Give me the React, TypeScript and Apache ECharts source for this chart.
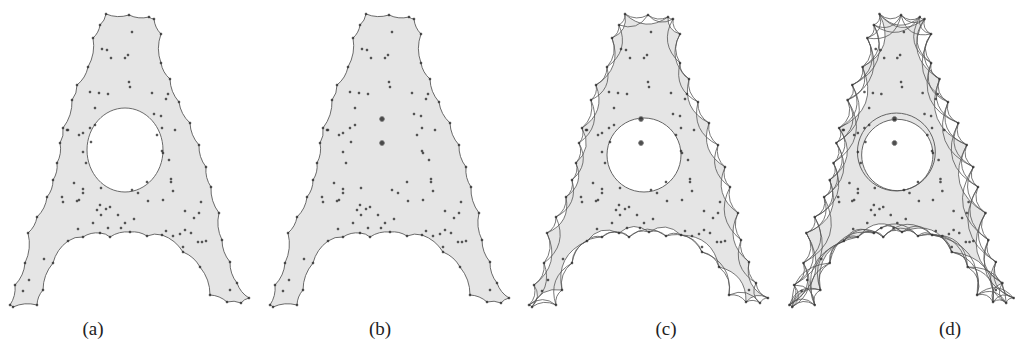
import React, { useEffect, useRef } from "react";
import * as echarts from "echarts";

// Outline vertices of the shape (panel-local coordinates), clockwise
const OUTLINE: number[][] = [
  [106, 14], [129, 15], [149, 17], [154, 19], [161, 34], [161, 63], [170, 79],
  [179, 102], [190, 123], [199, 145], [206, 167], [211, 187], [219, 213],
  [222, 240], [230, 262], [237, 283], [249, 298], [241, 303], [227, 302],
  [210, 295], [200, 267], [183, 252], [162, 235], [147, 236], [130, 232],
  [110, 237], [100, 233], [83, 237], [68, 241], [53, 263], [43, 290],
  [37, 305], [13, 307], [10, 305], [15, 285], [25, 263], [28, 233], [37, 217],
  [47, 197], [53, 180], [57, 163], [60, 143], [63, 128], [72, 100], [77, 85],
  [88, 67], [93, 38], [100, 25],
];

// Interior sample points
const DOTS: number[][] = [
  [132, 32], [102, 49], [107, 50], [128, 55], [125, 58], [111, 58], [129, 82],
  [130, 87], [90, 92], [99, 93], [108, 94], [152, 93], [168, 94], [166, 99],
  [95, 108], [154, 114], [161, 116], [90, 128], [95, 125], [67, 130], [68, 130],
  [162, 128], [175, 130], [79, 135], [83, 133], [157, 135], [91, 142], [83, 152],
  [162, 151], [163, 153], [86, 163], [169, 160], [74, 183], [83, 189], [83, 193],
  [101, 188], [171, 179], [171, 182], [173, 191], [147, 182], [132, 190],
  [138, 193], [62, 197], [63, 202], [77, 201], [79, 200], [148, 201], [163, 200],
  [201, 202], [100, 205], [97, 210], [106, 209], [110, 207], [101, 215],
  [118, 215], [185, 211], [199, 213], [194, 218], [134, 219], [125, 223],
  [93, 223], [78, 229], [108, 228], [121, 228], [166, 231], [173, 236],
  [180, 234], [185, 230], [191, 233], [198, 242], [202, 242], [206, 241],
  [183, 247], [44, 259], [29, 280], [23, 291], [230, 290],
];

const STARS: number[][] = [[122, 119], [122, 143]];

const HOLE_A: number[] = [125, 150, 38, 42]; // cx, cy, rx, ry
const HOLE_C: number[][] = [[125, 155, 37]];
const HOLE_D: number[][] = [[125, 155, 38], [124, 152, 41.5]];

const PANEL_LABELS: string[] = ["(a)", "(b)", "(c)", "(d)"];
const PANEL_LEFT: number[] = [0, 260, 519, 780];
const LABEL_X: number[] = [93, 380, 666, 950];

type ArcSpec = { step: number; ratio: number };
type PanelCfg = {
  fillStep: number;
  fillRatio: number;
  fillStroke: boolean;
  arcs: ArcSpec[];
  hole: "ellipse" | "circleC" | "circleD" | "none";
  stars: boolean;
};

const PANELS: PanelCfg[] = [
  { fillStep: 1, fillRatio: 0.09, fillStroke: true, arcs: [], hole: "ellipse", stars: false },
  { fillStep: 1, fillRatio: 0.09, fillStroke: true, arcs: [], hole: "none", stars: true },
  {
    fillStep: 2, fillRatio: 0.2, fillStroke: false,
    arcs: [{ step: 1, ratio: 0.15 }, { step: 2, ratio: 0.2 }],
    hole: "circleC", stars: true,
  },
  {
    fillStep: 3, fillRatio: 0.24, fillStroke: false,
    arcs: [{ step: 1, ratio: 0.2 }, { step: 2, ratio: 0.24 }, { step: 3, ratio: 0.24 }],
    hole: "circleD", stars: true,
  },
];

function seg(a: number[], b: number[], ratio: number, sign: number): string {
  const dx = b[0] - a[0];
  const dy = b[1] - a[1];
  const len = Math.hypot(dx, dy) || 1;
  const nx = (-dy / len) * sign;
  const ny = (dx / len) * sign;
  const mx = (a[0] + b[0]) / 2 + nx * 2 * ratio * len;
  const my = (a[1] + b[1]) / 2 + ny * 2 * ratio * len;
  return `Q ${mx.toFixed(2)} ${my.toFixed(2)} ${b[0].toFixed(2)} ${b[1].toFixed(2)}`;
}

function orientation(px: number[][]): number {
  let s = 0;
  for (let i = 0; i < px.length; i++) {
    const a = px[i];
    const b = px[(i + 1) % px.length];
    s += a[0] * b[1] - b[0] * a[1];
  }
  return s > 0 ? 1 : -1;
}

function makeRender(cfg: PanelCfg) {
  return (_params: any, api: any) => {
    const px: number[][] = OUTLINE.map((p) => api.coord(p));
    const n = px.length;
    const sign = orientation(px);
    const children: any[] = [];

    // fill
    let d = `M ${px[0][0]} ${px[0][1]} `;
    let i = 0;
    while (i < n) {
      const j = Math.min(i + cfg.fillStep, n);
      d += seg(px[i], px[j % n], cfg.fillRatio, sign) + " ";
      i = j;
    }
    d += "Z";
    children.push({
      type: "path",
      shape: { pathData: d },
      style: {
        fill: "#e5e5e5",
        stroke: cfg.fillStroke ? "#5a5a5a" : "none",
        lineWidth: 0.9,
      },
    });

    // holes
    if (cfg.hole === "ellipse") {
      const c = api.coord([HOLE_A[0], HOLE_A[1]]);
      const e = api.coord([HOLE_A[0] + HOLE_A[2], HOLE_A[1] + HOLE_A[3]]);
      children.push({
        type: "ellipse",
        shape: { cx: c[0], cy: c[1], rx: Math.abs(e[0] - c[0]), ry: Math.abs(e[1] - c[1]) },
        style: { fill: "#ffffff", stroke: "#5a5a5a", lineWidth: 0.9 },
      });
    } else if (cfg.hole === "circleC" || cfg.hole === "circleD") {
      const list = cfg.hole === "circleC" ? HOLE_C : HOLE_D;
      list.forEach((h, k) => {
        const c = api.coord([h[0], h[1]]);
        const e = api.coord([h[0] + h[2], h[1]]);
        children.push({
          type: "circle",
          shape: { cx: c[0], cy: c[1], r: Math.abs(e[0] - c[0]) },
          style: { fill: k === 0 ? "#ffffff" : "none", stroke: "#555", lineWidth: 0.9 },
        });
      });
    }

    // arcs
    cfg.arcs.forEach((a) => {
      let p = "";
      for (let k = 0; k < n; k++) {
        const A = px[k];
        const B = px[(k + a.step) % n];
        p += `M ${A[0]} ${A[1]} ` + seg(A, B, a.ratio, sign) + " ";
      }
      children.push({
        type: "path",
        shape: { pathData: p },
        style: { fill: "none", stroke: "#555", lineWidth: 0.8 },
      });
    });

    return { type: "group", children };
  };
}

export default function App() {
  const ref = useRef<HTMLDivElement>(null);
  useEffect(() => {
    if (!ref.current) return;
    const chart = echarts.init(ref.current, undefined, { renderer: "svg" });
    const grids = PANEL_LEFT.map((l) => ({ left: l, top: 0, width: 260, height: 320 }));
    const xAxes = PANEL_LEFT.map((_, k) => ({
      type: "value", gridIndex: k, min: 0, max: 260, show: false,
    }));
    const yAxes = PANEL_LEFT.map((_, k) => ({
      type: "value", gridIndex: k, min: 0, max: 320, inverse: true, show: false,
    }));
    const series: any[] = [];
    PANELS.forEach((cfg, k) => {
      series.push({
        type: "custom",
        xAxisIndex: k,
        yAxisIndex: k,
        coordinateSystem: "cartesian2d",
        renderItem: makeRender(cfg),
        data: [[0, 0]],
        clip: false,
        silent: true,
        z: 1,
      });
      series.push({
        type: "scatter",
        xAxisIndex: k,
        yAxisIndex: k,
        data: [...DOTS, ...OUTLINE],
        symbolSize: 2.6,
        itemStyle: { color: "#2e2e2e" },
        silent: true,
        z: 3,
      });
      if (cfg.stars) {
        series.push({
          type: "scatter",
          xAxisIndex: k,
          yAxisIndex: k,
          data: STARS,
          symbolSize: 5,
          itemStyle: { color: "#222", borderColor: "#888", borderWidth: 1 },
          silent: true,
          z: 4,
        });
      }
    });
    chart.setOption({
      animation: false,
      grid: grids,
      xAxis: xAxes,
      yAxis: yAxes,
      series,
      graphic: PANEL_LABELS.map((t, k) => ({
        type: "text",
        x: LABEL_X[k],
        y: 328,
        style: {
          text: t,
          font: '19px "Liberation Serif", "DejaVu Serif", serif',
          fill: "#222",
          textAlign: "center",
          textVerticalAlign: "middle",
        },
      })),
    });
    return () => chart.dispose();
  }, []);
  return (
    <div
      ref={ref}
      style={{ position: "absolute", left: 0, top: 0, width: 1024, height: 347, background: "#fff" }}
    />
  );
}
